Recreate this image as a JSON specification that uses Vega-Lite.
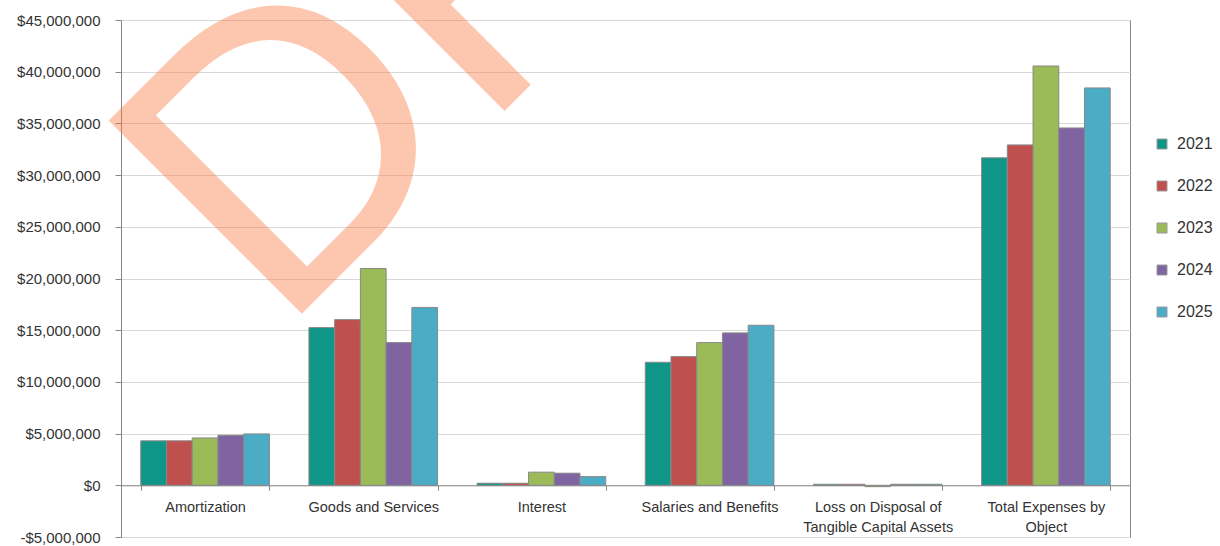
{
  "$schema": "https://vega.github.io/schema/vega-lite/v6.json",
  "width": 1009,
  "height": 517,
  "autosize": {"type": "none"},
  "padding": {"left": 121, "top": 20, "right": 90, "bottom": 9},
  "background": "white",
  "config": {
    "view": {"stroke": "#888888", "strokeWidth": 1},
    "font": "Liberation Sans",
    "axis": {"labelFont": "Liberation Sans", "labelColor": "#333333", "domainColor": "#888888", "tickColor": "#888888"},
    "legend": {"labelFont": "Liberation Sans"}
  },
  "data": {
    "values": [
      {"category": "Amortization", "year": "2021", "amount": 4300000},
      {"category": "Amortization", "year": "2022", "amount": 4300000},
      {"category": "Amortization", "year": "2023", "amount": 4580000},
      {"category": "Amortization", "year": "2024", "amount": 4840000},
      {"category": "Amortization", "year": "2025", "amount": 4970000},
      {"category": "Goods and Services", "year": "2021", "amount": 15250000},
      {"category": "Goods and Services", "year": "2022", "amount": 16020000},
      {"category": "Goods and Services", "year": "2023", "amount": 20970000},
      {"category": "Goods and Services", "year": "2024", "amount": 13800000},
      {"category": "Goods and Services", "year": "2025", "amount": 17200000},
      {"category": "Interest", "year": "2021", "amount": 200000},
      {"category": "Interest", "year": "2022", "amount": 200000},
      {"category": "Interest", "year": "2023", "amount": 1270000},
      {"category": "Interest", "year": "2024", "amount": 1170000},
      {"category": "Interest", "year": "2025", "amount": 840000},
      {"category": "Salaries and Benefits", "year": "2021", "amount": 11900000},
      {"category": "Salaries and Benefits", "year": "2022", "amount": 12450000},
      {"category": "Salaries and Benefits", "year": "2023", "amount": 13800000},
      {"category": "Salaries and Benefits", "year": "2024", "amount": 14740000},
      {"category": "Salaries and Benefits", "year": "2025", "amount": 15480000},
      {"category": "Loss on Disposal of Tangible Capital Assets", "year": "2021", "amount": 100000},
      {"category": "Loss on Disposal of Tangible Capital Assets", "year": "2022", "amount": 100000},
      {"category": "Loss on Disposal of Tangible Capital Assets", "year": "2023", "amount": -130000},
      {"category": "Loss on Disposal of Tangible Capital Assets", "year": "2024", "amount": 100000},
      {"category": "Loss on Disposal of Tangible Capital Assets", "year": "2025", "amount": 100000},
      {"category": "Total Expenses by Object", "year": "2021", "amount": 31670000},
      {"category": "Total Expenses by Object", "year": "2022", "amount": 32920000},
      {"category": "Total Expenses by Object", "year": "2023", "amount": 40550000},
      {"category": "Total Expenses by Object", "year": "2024", "amount": 34560000},
      {"category": "Total Expenses by Object", "year": "2025", "amount": 38430000}
    ]
  },
  "layer": [
    {
      "mark": {"type": "bar", "stroke": "#888888", "strokeWidth": 1},
      "encoding": {
        "x": {
          "field": "category",
          "type": "nominal",
          "sort": null,
          "scale": {"paddingInner": 0.235, "paddingOuter": 0.1175},
          "axis": {
            "title": null,
            "labelAngle": 0,
            "labelFontSize": 14.5,
            "labelLineHeight": 20,
            "labelPadding": 10,
            "tickSize": 5,
            "tickBand": "extent",
            "offset": -51.7,
            "grid": false,
            "labelExpr": "datum.label == 'Loss on Disposal of Tangible Capital Assets' ? ['Loss on Disposal of', 'Tangible Capital Assets'] : datum.label == 'Total Expenses by Object' ? ['Total Expenses by', 'Object'] : datum.label"
          }
        },
        "xOffset": {"field": "year", "type": "nominal", "scale": {"paddingInner": 0, "paddingOuter": 0}},
        "y": {
          "field": "amount",
          "type": "quantitative",
          "scale": {"domain": [-5000000, 45000000], "nice": false, "zero": false},
          "axis": {
            "title": null,
            "values": [-5000000, 0, 5000000, 10000000, 15000000, 20000000, 25000000, 30000000, 35000000, 40000000, 45000000],
            "labelFontSize": 15,
            "labelPadding": 15,
            "tickSize": 6,
            "grid": true,
            "gridColor": "#d9d9d9",
            "labelExpr": "(datum.value < 0 ? '-$' : '$') + format(abs(datum.value), ',.0f')"
          }
        },
        "color": {
          "field": "year",
          "type": "nominal",
          "scale": {"domain": ["2021", "2022", "2023", "2024", "2025"], "range": ["#0f9688", "#c0504d", "#9bbb59", "#8064a2", "#4bacc6"]},
          "legend": {
            "title": null,
            "orient": "none",
            "legendX": 1033,
            "legendY": 116,
            "padding": 0,
            "symbolType": "square",
            "symbolSize": 100,
            "symbolStrokeColor": "#999999",
            "symbolStrokeWidth": 1,
            "symbolOpacity": 1,
            "labelFontSize": 16,
            "labelColor": "#333333",
            "labelOffset": 7,
            "rowPadding": 26
          }
        }
      }
    },
    {
      "data": {"values": [{"mark": "DRAFT"}]},
      "mark": {"type": "text", "font": "Liberation Sans", "fontSize": 397, "angle": -45, "align": "left", "baseline": "alphabetic", "color": "#f97b3f", "opacity": 0.42},
      "encoding": {
        "text": {"field": "mark", "type": "nominal"},
        "x": {"datum": "Amortization", "type": "nominal", "bandPosition": 1.073},
        "y": {"datum": 14370000, "type": "quantitative"}
      }
    }
  ]
}
